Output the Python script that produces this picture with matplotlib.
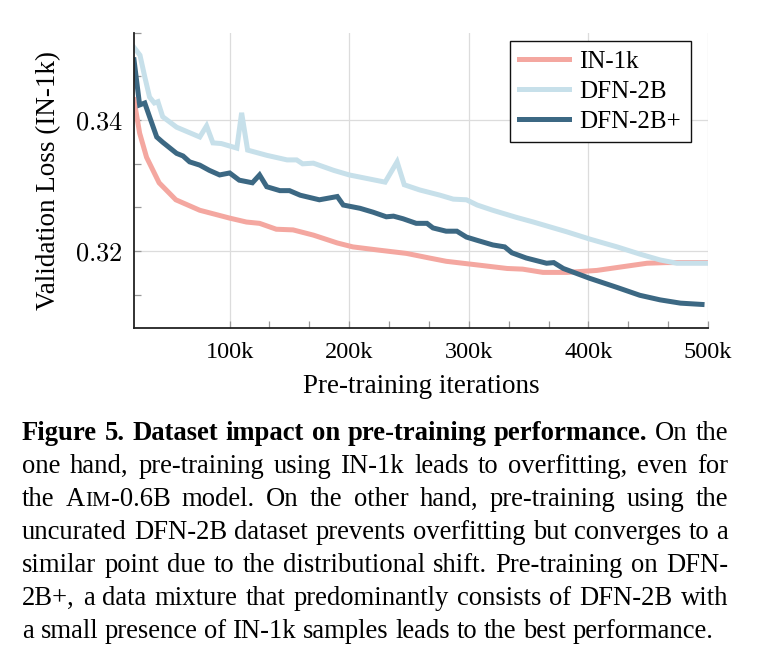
import numpy as np
import matplotlib
matplotlib.use('Agg')
import matplotlib.pyplot as plt
from matplotlib.ticker import FixedLocator, FixedFormatter

SERIF = ['Liberation Serif', 'DejaVu Serif']
plt.rcParams['mathtext.fontset'] = 'cm'

# iterations (k) and validation loss
in1k_x = [20, 24.7, 30.5, 41, 55, 75, 100, 114, 125, 139, 153, 170, 190, 203, 225,
          248, 267, 281, 309, 332, 345, 362, 382, 407, 426, 449, 465, 500]
in1k_y = [0.3431, 0.3380, 0.3343, 0.3304, 0.3278, 0.3262, 0.3250, 0.3244, 0.3242,
          0.3233, 0.3232, 0.3224, 0.3212, 0.3206, 0.3201, 0.3196, 0.3189, 0.3184,
          0.3178, 0.3173, 0.3172, 0.3167, 0.3167, 0.3170, 0.3175, 0.3181, 0.3182, 0.3182]

dfn_x = [20, 25, 29, 33, 37, 40, 44, 55.6, 75, 80.7, 86, 93, 106, 110, 115, 131, 148,
         156, 161, 170, 187, 200, 230, 240, 246, 259, 276, 287, 298, 307, 320, 340,
         354, 382, 401, 424, 443, 460, 474, 500]
dfn_y = [0.3511, 0.3499, 0.3466, 0.3435, 0.3426, 0.3428, 0.3405, 0.3389, 0.3374,
         0.3391, 0.3365, 0.3364, 0.3357, 0.3411, 0.3354, 0.3346, 0.3339, 0.3339,
         0.3333, 0.3334, 0.3323, 0.3316, 0.3305, 0.3336, 0.3301, 0.3293, 0.3285,
         0.3279, 0.3278, 0.3270, 0.3262, 0.3251, 0.3244, 0.3229, 0.3218, 0.3206,
         0.3195, 0.3186, 0.3181, 0.3181]

dfnp_x = [20, 24.7, 29, 33, 39, 44, 55.6, 61, 66.5, 75, 83, 91.6, 100, 108, 119, 125,
          131, 142, 150, 159, 175, 190, 195, 209, 220, 231, 237, 245, 256, 265, 270,
          281, 290, 298, 307, 320, 330, 336, 348, 365, 371, 379, 401, 424, 443, 460,
          477, 495]
dfnp_y = [0.3492, 0.3423, 0.3426, 0.3405, 0.3374, 0.3366, 0.3349, 0.3345, 0.3336,
          0.3331, 0.3323, 0.3316, 0.3319, 0.3308, 0.3304, 0.3316, 0.3298, 0.3292,
          0.3292, 0.3285, 0.3278, 0.3283, 0.3270, 0.3265, 0.3259, 0.3252, 0.3253,
          0.3249, 0.3242, 0.3242, 0.3235, 0.3230, 0.3230, 0.3221, 0.3216, 0.3209,
          0.3206, 0.3197, 0.3189, 0.3181, 0.3182, 0.3173, 0.3158, 0.3144, 0.3132,
          0.3125, 0.3120, 0.3118]

labels = ['IN-1k', 'DFN-2B', 'DFN-2B+']
colors = ['#F4A7A0', '#C7E0EA', '#3C6883']

xticks = [100, 200, 300, 400, 500]
xticklabels = ['100k', '200k', '300k', '400k', '500k']
yticks = [0.32, 0.34]

W, H = 763, 668
fig = plt.figure(figsize=(W / 100, H / 100), dpi=100)
ax = fig.add_axes([134 / W, 1 - 328 / H, (708 - 134) / W, (328 - 33) / H])

for xs, ys, lab, c in zip([in1k_x, dfn_x, dfnp_x], [in1k_y, dfn_y, dfnp_y], labels, colors):
    ax.plot(xs, ys, color=c, lw=3.6, label=lab, solid_joinstyle='miter')

ax.set_xlim(20, 500)
ax.set_ylim(0.3082, 0.3533)
ax.xaxis.set_major_locator(FixedLocator(xticks))
ax.xaxis.set_major_formatter(FixedFormatter(xticklabels))
ax.xaxis.set_minor_locator(FixedLocator([133.3, 166.7, 233.3, 266.7, 333.3, 366.7,
                                         433.3, 466.7]))
ax.yaxis.set_major_locator(FixedLocator(yticks))
ax.yaxis.set_major_formatter(FixedFormatter(['$0.32$', '$0.34$']))
ax.yaxis.set_minor_locator(FixedLocator([0.3133, 0.3267, 0.3333, 0.3467, 0.3533]))

ax.grid(True, which='major', color='#dcdcdc', lw=0.9)
ax.set_axisbelow(True)
for s in ['top', 'right']:
    ax.spines[s].set_visible(False)
for s in ['left', 'bottom']:
    ax.spines[s].set_color('#222222')
    ax.spines[s].set_linewidth(1.3)
ax.tick_params(which='both', direction='in', color='#999999', width=0.9, length=5)
ax.tick_params(axis='y', which='major', labelsize=19, pad=8)
ax.tick_params(axis='x', which='major', labelsize=17.5, pad=10)
for t in ax.get_xticklabels():
    t.set_family(SERIF)

ax.set_xlabel('Pre-training iterations', family=SERIF, fontsize=19.5, labelpad=8)
ax.set_ylabel('Validation Loss (IN-1k)', family=SERIF, fontsize=19.5, labelpad=10)

leg = ax.legend(loc='upper right', bbox_to_anchor=(0.970, 0.973), borderaxespad=0,
                prop={'family': SERIF, 'size': 18}, fancybox=False, framealpha=1,
                edgecolor='#111111', handlelength=2.0, handletextpad=0.42,
                labelspacing=0.3, borderpad=0.38)
leg.get_frame().set_linewidth(1.0)

# caption, justified between x=22 and x=728
caption = [
    [[('Figure', 'b', 1)], [('5.', 'b', 1)], [('Dataset', 'b', 1)], [('impact', 'b', 1)],
     [('on', 'b', 1)], [('pre-training', 'b', 1)], [('performance.', 'b', 1)],
     [('On', 'n', 1)], [('the', 'n', 1)]],
    'one hand, pre-training using IN-1k leads to overfitting, even for',
    [[('the', 'n', 1)], [('A', 'n', 1), ('IM', 'n', 0.78), ('-0.6B', 'n', 1)],
     [('model.', 'n', 1)], [('On', 'n', 1)], [('the', 'n', 1)], [('other', 'n', 1)],
     [('hand,', 'n', 1)], [('pre-training', 'n', 1)], [('using', 'n', 1)], [('the', 'n', 1)]],
    'uncurated DFN-2B dataset prevents overfitting but converges to a',
    'similar point due to the distributional shift. Pre-training on DFN-',
    '2B+, a data mixture that predominantly consists of DFN-2B with',
    'a small presence of IN-1k samples leads to the best performance.',
]
left, right = 22, 728
baselines = [440, 473, 506, 539, 572, 605, 638]
caption = [[[(w, 'n', 1)] for w in l.split()] if isinstance(l, str) else l for l in caption]

fig.canvas.draw()
renderer = fig.canvas.get_renderer()


def make(txt, weight, size, x, y):
    return fig.text(x / W, 1 - y / H, txt, fontsize=size, family=SERIF,
                    fontweight='bold' if weight == 'b' else 'normal', va='baseline')


def measure(size):
    out = []
    for i, line in enumerate(caption):
        words = []
        for word in line:
            pieces = []
            for txt, wt, sc in word:
                t = make(txt, wt, size * sc, 0, baselines[i])
                pieces.append((t, t.get_window_extent(renderer).width))
            words.append(pieces)
        out.append(words)
    return out


# pick the size where the widest line just fits with plain spaces
base = 16.0
trial = measure(base)
space = base * 0.25 * 100 / 72
widest = max(sum(sum(p[1] for p in w) for w in words) + space * (len(words) - 1)
             for words in trial)
for words in trial:
    for w in words:
        for t, _ in w:
            t.remove()
fs = base * (right - left - 4) / widest

for i, words in enumerate(measure(fs)):
    widths = [sum(p[1] for p in w) for w in words]
    if i == len(caption) - 1:
        gap = fs * 0.25 * 100 / 72
    else:
        gap = (right - left - sum(widths)) / (len(words) - 1)
    x = left
    for pieces, wsum in zip(words, widths):
        xx = x
        for t, w in pieces:
            t.set_x(xx / W)
            xx += w
        x += wsum + gap

fig.savefig('out.png', dpi=100)
